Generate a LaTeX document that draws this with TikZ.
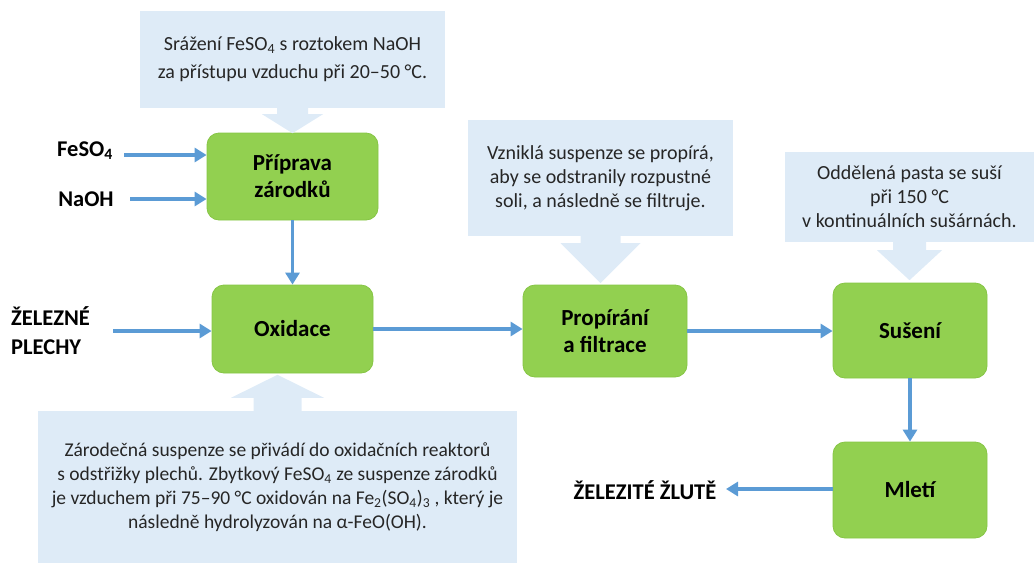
\documentclass[tikz,border=0pt]{standalone}
\usepackage{fontspec}
\setmainfont{Carlito}
\usetikzlibrary{arrows.meta,calc}
\definecolor{leaf}{HTML}{92D050}
\definecolor{leafedge}{HTML}{86C545}
\definecolor{note}{HTML}{DEEBF7}
\definecolor{flow}{HTML}{5B9BD5}
\definecolor{ink}{HTML}{262626}

% chemical subscript in the text font
\newcommand{\ix}[1]{\textsubscript{#1}}

% pointer under/over a callout box: anchor, half neck, half head, head base offset, tip offset
\newcommand{\pointer}[5]{%
  \fill[note] ($(#1)+(-#2,0)$) -- ($(#1)+(-#2,#4)$) -- ($(#1)+(-#3,#4)$)
    -- ($(#1)+(0,#5)$) -- ($(#1)+(#3,#4)$) -- ($(#1)+(#2,#4)$) -- ($(#1)+(#2,0)$) -- cycle;}

\begin{document}
\begin{tikzpicture}[x=1pt,y=-1pt,
  stage/.style={draw=leafedge, line width=0.8pt, fill=leaf, rounded corners=12pt,
    font=\fontsize{23}{27}\selectfont\bfseries, align=center, inner sep=0pt},
  notebox/.style={fill=note, inner sep=0pt, align=center, text=ink,
    font=\fontsize{20}{24}\selectfont},
  inlabel/.style={font=\fontsize{22.5}{29}\selectfont\bfseries, inner sep=0pt},
  flowline/.style={draw=flow, line width=3.5pt, -{Triangle[length=12pt,width=14pt]}}]

\useasboundingbox (0,0) rectangle (1034,563);

% process stages
\node[stage, minimum width=171pt, minimum height=87pt] (prip) at (292.5,176.5) {Příprava\\zárodků};
\node[stage, minimum width=161pt, minimum height=88pt] (oxi) at (292.5,329) {Oxidace};
\node[stage, minimum width=164pt, minimum height=92pt] (prop) at (605,331) {Propírání\\a filtrace};
\node[stage, minimum width=154pt, minimum height=95pt] (sus) at (910,330.5) {Sušení};
\node[stage, minimum width=154pt, minimum height=96pt] (mlet) at (910,490) {Mletí};

% explanatory callouts
\node[notebox, minimum width=305pt, minimum height=97pt] (n1) at (292.5,59.5)
  {Srážení FeSO\ix{4} s roztokem NaOH\\[4pt]za přístupu vzduchu při 20–50 °C.};
\pointer{n1.south}{15.5}{30.5}{6}{25}

\node[notebox, minimum width=479pt, minimum height=152pt,
      font=\fontsize{19.5}{24}\selectfont] (n2) at (277.5,487)
  {Zárodečná suspenze se přivádí do oxidačních reaktorů\\
   s odstřižky plechů. Zbytkový FeSO\ix{4} ze suspenze zárodků\\
   je vzduchem při 75–90 °C oxidován na Fe\ix{2}(SO\ix{4})\ix{3} , který je\\
   následně hydrolyzován na α-FeO(OH).};
\pointer{n2.north}{24}{46.5}{-13}{-36}

\node[notebox, minimum width=265pt, minimum height=116pt] (n3) at (600.5,178)
  {Vzniklá suspenze se propírá,\\aby se odstranily rozpustné\\soli, a následně se filtruje.};
\pointer{n3.south}{20}{40}{7}{47}

\node[notebox, minimum width=249pt, minimum height=90pt] (n4) at (909.5,197)
  {Oddělená pasta se suší\\při 150 °C\\v kontinuálních sušárnách.};
\pointer{n4.south}{16.5}{32.5}{8}{38}

% input and output labels
\node[inlabel] (lfe) at (85,150.5) {FeSO\ix{4}};
\node[inlabel] (lna) at (86,199.5) {NaOH};
\node[inlabel, anchor=west, align=left] (lpl) at (11,331) {ŽELEZNÉ\\PLECHY};
\node[inlabel] (lout) at (645,490) {ŽELEZITÉ ŽLUTĚ};

% flows
\coordinate (feIn) at (124,155);
\coordinate (naIn) at (130,199);
\coordinate (plIn) at (113,331);
\coordinate (outEnd) at (726,489);
\draw[flowline] (feIn) -- (feIn -| prip.west);
\draw[flowline] (naIn) -- (naIn -| prip.west);
\draw[flowline] (plIn) -- (plIn -| oxi.west);
\draw[flowline] (prip.south) -- (oxi.north);
\draw[flowline] (oxi.east) -- (oxi.east -| prop.west);
\draw[flowline] (prop.east) -- (prop.east -| sus.west);
\draw[flowline] (sus.south) -- (mlet.north);
\draw[flowline] (mlet.west |- outEnd) -- (outEnd);
\end{tikzpicture}
\end{document}
